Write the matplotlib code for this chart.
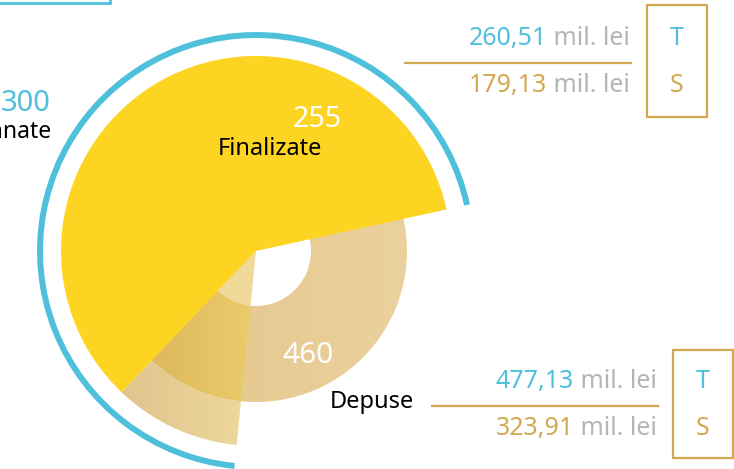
import numpy as np
import matplotlib
matplotlib.use("Agg")
import matplotlib.pyplot as plt
from matplotlib.patches import Wedge, Rectangle
from matplotlib.colors import LinearSegmentedColormap

plt.rcParams['font.family'] = ['Noto Sans', 'DejaVu Sans']

# date
semnate = 300
finalizate = 255
depuse = 460
labels = ["Semnate", "Finalizate", "Depuse"]
fin_sume = ["260,51", "179,13"]   # T, S pentru finalizate
dep_sume = ["477,13", "323,91"]   # T, S pentru depuse
unitate = " mil. lei"

W, H = 734, 469
BLUE = "#4FC0DC"
YELLOW = "#FDD422"
TAN = "#D2A851"
GREY = "#B5B5B5"

fig = plt.figure(figsize=(W / 100, H / 100), dpi=100)
ax = fig.add_axes([0, 0, 1, 1])
ax.set_xlim(0, W)
ax.set_ylim(0, H)
ax.axis("off")

cx, cy = 256, H - 251
start = 12.3
k = 252.0 / semnate       # grade pe unitate
r_hole, r_ring, r_pie, r_arc = 55, 151, 195, 216

def Y(p):
    return H - p

def grad_fill(patch, c1, c2, x0, x1, z):
    patch.set_facecolor("none")
    patch.set_edgecolor("none")
    ax.add_patch(patch)
    cmap = LinearSegmentedColormap.from_list("g", [c1, c2])
    g = np.linspace(0, 1, 256).reshape(1, -1)
    im = ax.imshow(g, extent=[x0, x1, 0, H], cmap=cmap, aspect="auto", zorder=z)
    im.set_clip_path(patch)

# inelul "Depuse"
dep_end = start + min(360, depuse * k)
grad_fill(Wedge((cx, cy), r_ring, start, dep_end, width=r_ring - r_hole),
          "#E2C488", "#EBD19D", cx - r_ring, cx + r_ring, 1)

# "Finalizate"
fin_end = start + finalizate * k
ax.add_patch(Wedge((cx, cy), r_pie, start, fin_end, facecolor=YELLOW,
                   edgecolor="none", zorder=2))

# diferenta semnate - finalizate
sem_end = start + semnate * k
ax.add_patch(Wedge((cx, cy), r_hole, fin_end, sem_end, facecolor="#F0D898",
                   edgecolor="none", zorder=3))
grad_fill(Wedge((cx, cy), r_ring, fin_end, sem_end, width=r_ring - r_hole),
          "#DCB85C", "#EACC6A", cx - 110, cx, 3)
grad_fill(Wedge((cx, cy), r_pie, fin_end, sem_end, width=r_pie - r_ring),
          "#DFC38D", "#F0DA9C", cx - 140, cx, 3)

# arcul "Semnate"
ax.add_patch(Wedge((cx, cy), r_arc + 3, start, sem_end, width=6,
                   facecolor=BLUE, edgecolor="none", zorder=4))

# etichete pe grafic
ax.text(51, Y(103), str(semnate), color=BLUE, fontsize=21, ha="right", va="center")
ax.text(52, Y(132), labels[0], color="black", fontsize=16.5, ha="right", va="center")
ax.text(317, Y(119), str(finalizate), color="white", fontsize=20.5, ha="center", va="center", zorder=5)
ax.text(270, Y(149), labels[1], color="black", fontsize=17, ha="center", va="center", zorder=5)
ax.text(308, Y(355), str(depuse), color="white", fontsize=21.5, ha="center", va="center", zorder=5)
ax.text(330, Y(402), labels[2], color="black", fontsize=17, ha="left", va="center", zorder=5)

# caseta albastra sus-stanga
ax.add_patch(Rectangle((-5, Y(3)), 115, 20, facecolor="none", edgecolor=BLUE, lw=2))

def bloc(x_right, y_top, y_bot, x_line, sume, bx, by0, by1):
    for s, col, y in [(sume[0], BLUE, y_top), (sume[1], TAN, y_bot)]:
        t = ax.text(x_right, Y(y), unitate, color=GREY, fontsize=18, ha="right", va="center")
        ax.annotate(s, xy=(0, 0.5), xycoords=t, ha="right", va="center",
                    color=col, fontsize=18)
    ax.plot([x_line, x_right + 1], [Y((y_top + y_bot) / 2 + 1)] * 2, color=TAN, lw=1.6)
    ax.add_patch(Rectangle((bx, Y(by1)), 60, by1 - by0, facecolor="none",
                           edgecolor=TAN, lw=1.6))
    ax.text(bx + 30, Y(y_top), "T", color=BLUE, fontsize=18, ha="center", va="center")
    ax.text(bx + 30, Y(y_bot), "S", color=TAN, fontsize=18, ha="center", va="center")

bloc(630, 38, 85, 405, fin_sume, 647, 5, 117)
bloc(657, 381, 428, 432, dep_sume, 673, 350, 458)

fig.savefig("out.png", dpi=100)
